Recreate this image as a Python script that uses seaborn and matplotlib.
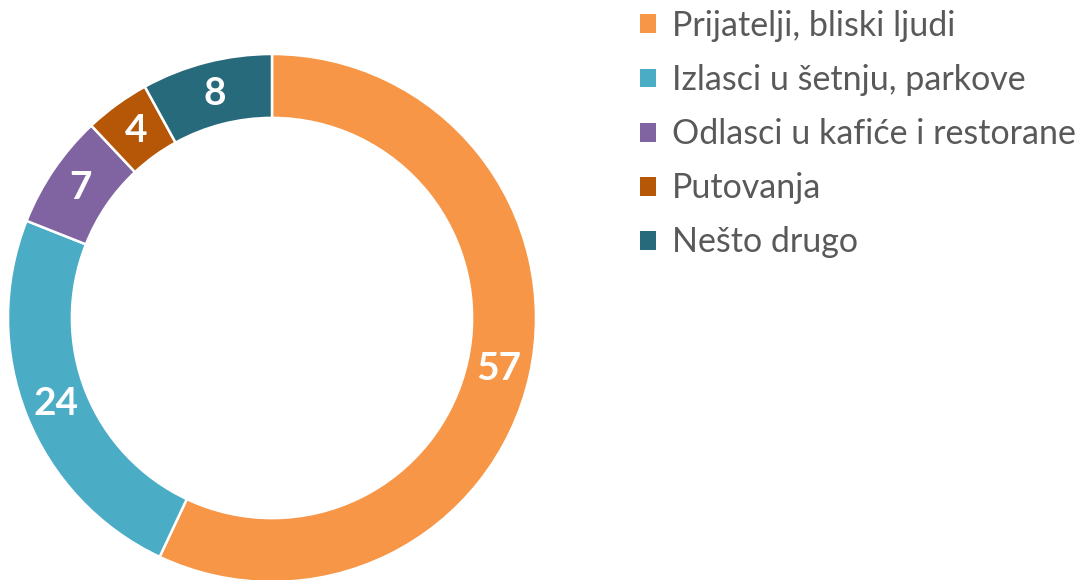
import matplotlib
matplotlib.use("Agg")
import matplotlib.pyplot as plt
from matplotlib.patches import Patch
import seaborn as sns
import numpy as np

# data
categories = ["Prijatelji, bliski ljudi", "Izlasci u šetnju, parkove",
              "Odlasci u kafiće i restorane", "Putovanja", "Nešto drugo"]
values = [57, 24, 7, 4, 8]
colors = ["#F79646", "#4BACC6", "#8064A2", "#B65708", "#276A7C"]

sns.set_theme(style="white")
plt.rcParams["font.family"] = ["Lato", "DejaVu Sans"]

W, H = 1081, 580
fig = plt.figure(figsize=(W / 100, H / 100), dpi=100)

# donut: center (272, 318) px, outer radius 264 px
cx, cy, r = 272, 318, 264
ax = fig.add_axes([(cx - r) / W, (H - cy - r) / H, 2 * r / W, 2 * r / H])
wedges, texts = ax.pie(
    values, colors=colors, startangle=90, counterclock=False, radius=1,
    wedgeprops=dict(width=0.242, edgecolor="white", linewidth=1.8),
)
ax.set_xlim(-1, 1)
ax.set_ylim(-1, 1)
ax.set_aspect("equal")
ax.axis("off")

# value labels at ring middle
mid_r = 1 - 0.242 / 2
for w, v in zip(wedges, values):
    ang = np.deg2rad((w.theta1 + w.theta2) / 2)
    ax.text(mid_r * np.cos(ang), mid_r * np.sin(ang), str(v),
            ha="center", va="center", color="white",
            fontsize=28, fontweight="bold")

handles = [Patch(facecolor=c, edgecolor="none") for c in colors]
leg = fig.legend(handles, categories, loc="upper left",
                 bbox_to_anchor=(640 / W, 1 - 10 / H),
                 frameon=False, fontsize=24.5, labelcolor="#595959",
                 handlelength=0.48, handleheight=0.48, handletextpad=0.45,
                 labelspacing=0.65, borderpad=0, borderaxespad=0)

fig.savefig("out.png", dpi=100, facecolor="white")
